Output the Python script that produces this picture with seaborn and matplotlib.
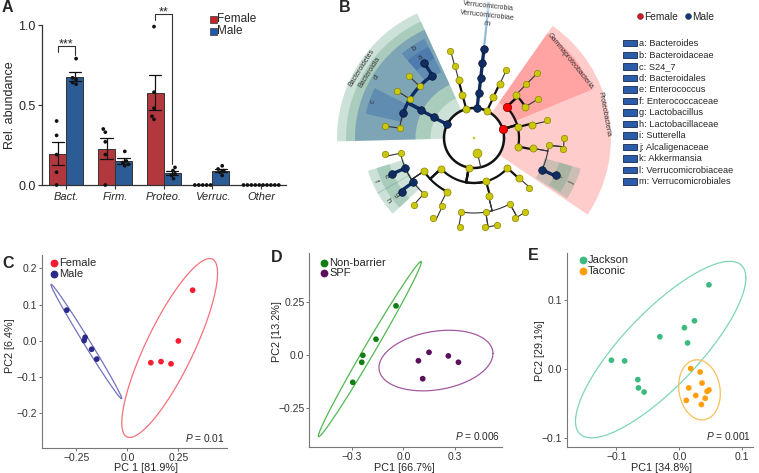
import warnings
warnings.filterwarnings('ignore')
import numpy as np
import pandas as pd
import matplotlib
matplotlib.use('Agg')
import matplotlib.pyplot as plt
import seaborn as sns
from matplotlib.patches import Wedge, Rectangle
from matplotlib.lines import Line2D

sns.set_theme(style='ticks')
plt.rcParams['font.family'] = ['Liberation Sans', 'DejaVu Sans']
plt.rcParams['mathtext.fontset'] = 'custom'
plt.rcParams['mathtext.it'] = 'Liberation Sans:italic'
plt.rcParams['mathtext.rm'] = 'Liberation Sans'

# ---------------- Panel A data ----------------
phyla = ['Bact.', 'Firm.', 'Proteo.', 'Verruc.', 'Other']
sexes = ['Female', 'Male']
bact_female = [0.40, 0.31, 0.19, 0.08, 0.00]
bact_male = [0.79, 0.67, 0.66, 0.64, 0.63]
firm_female = [0.35, 0.33, 0.27, 0.19, 0.00]
firm_male = [0.21, 0.15, 0.14, 0.13, 0.12]
proteo_female = [0.99, 0.58, 0.48, 0.43, 0.41]
proteo_male = [0.11, 0.09, 0.07, 0.06, 0.04]
verruc_female = [0.0, 0.0, 0.0, 0.0, 0.0]
verruc_male = [0.12, 0.10, 0.09, 0.08, 0.06]
other_female = [0.0, 0.0, 0.0, 0.0, 0.0]
other_male = [0.0, 0.0, 0.0, 0.0, 0.0]
sig_phyla = ['Bact.', 'Proteo.']
sig_stars = ['***', '**']

# ---------------- Panel B data (LEfSe cladogram) ----------------
clade_parent = [-1, 0, 0, 0, 0, 0, 0, 0,
                1, 8, 9, 10, 9, 12, 9, 14, 9, 9, 17,
                3, 19, 20, 21,
                2, 23, 24, 25,
                4, 27, 28,
                5, 30, 31, 32, 30, 34,
                5, 36, 37,
                5, 39, 40, 41, 41, 40, 44,
                6, 46, 47, 48, 47, 50, 47, 52, 47, 54, 46, 56, 57,
                6, 59, 60, 61, 60, 63, 63, 60, 66, 66,
                6, 69, 70]
clade_level = [-1, 1, 1, 1, 1, 1, 1, 0,
               2, 3, 4, 5, 4, 5, 4, 5, 4, 4, 5,
               2, 3, 4, 5,
               2, 3, 4, 5,
               2, 3, 4,
               2, 3, 4, 5, 3, 4,
               2, 3, 4,
               2, 3, 4, 5, 5, 4, 5,
               2, 3, 4, 5, 4, 5, 4, 5, 4, 5, 3, 4, 5,
               2, 3, 4, 5, 4, 5, 5, 4, 5, 5,
               2, 3, 4]
clade_angle = [0, 153, 105, 84, 64.5, 17, -100, -77,
               152.5, 152, 123.6, 123.5, 136.4, 136.6, 148.6, 148.4, 160.4, 172.4, 172.3,
               83.6, 83.6, 83.6, 83.7,
               105, 104.8, 105, 105.3,
               64.7, 64.5, 64.6,
               43.5, 45.8, 45.7, 46, 31.3, 31.4,
               14, 13, 14,
               -11, -10, -5.6, 0, -7, -25, -24,
               -137, -146.4, -168.3, -170, -156.3, -156.3, -144, -143.5, -132, -131.8, -116.8, -114.9, -116.8,
               -74.5, -76, -99.7, -99, -81, -83, -75.3, -61.4, -63, -55.3,
               -42, -41.6, -42.3]
male_clades = [1, 3, 8, 9, 10, 11, 16, 19, 20, 21, 22, 44, 45, 50, 51, 52, 53]
female_clades = [5, 30]
highlight_nodes = [1, 8, 9, 10, 11, 16, 5, 30, 44, 45, 50, 51, 52, 53, 3, 19, 20, 21, 22]
highlight_labels = ['Bacteroidetes', 'Bacteroidia', 'd', 'b', 'a', 'c',
                    'Proteobacteria', 'Gammaproteobacteria', 'j', 'i',
                    'f', 'e', 'h', 'g', 'Verrucomicrobia', 'Verrucomicrobiae', 'm', '', '']
highlight_pad = [9, 9, 9, 7, 7, 7, 9, 9, 8, 8, 6.5, 6.5, 6.5, 6.5, 0.4, 0.4, 0.4, 0.4, 0.4]
taxa_codes = list('abcdefghijklm')
taxa_names = ['Bacteroides', 'Bacteroidaceae', 'S24_7', 'Bacteroidales', 'Enterococcus',
              'Enterococcaceae', 'Lactobacillus', 'Lactobacillaceae', 'Sutterella',
              'Alcaligenaceae', 'Akkermansia', 'Verrucomicrobiaceae', 'Verrucomicrobiales']

# ---------------- Panels C-E data (PCoA) ----------------
c_female_pc1 = [0.32, 0.25, 0.115, 0.165, 0.214]
c_female_pc2 = [0.14, 0.0, -0.060, -0.057, -0.063]
c_male_pc1 = [-0.297, -0.207, -0.212, -0.175, -0.150]
c_male_pc2 = [0.085, 0.010, 0.001, -0.023, -0.050]
d_nonbarrier_pc1 = [-0.043, -0.160, -0.237, -0.243, -0.296]
d_nonbarrier_pc2 = [0.234, 0.076, 0.0, -0.033, -0.128]
d_spf_pc1 = [0.088, 0.150, 0.113, 0.263, 0.322]
d_spf_pc2 = [-0.026, 0.014, -0.111, -0.003, -0.033]
e_jackson_pc1 = [0.047, 0.024, 0.008, 0.013, -0.031, -0.108, -0.087, -0.066, -0.065, -0.056]
e_jackson_pc2 = [0.122, 0.070, 0.060, 0.038, 0.047, 0.013, 0.012, -0.015, -0.027, -0.033]
e_taconic_pc1 = [0.018, 0.033, 0.036, 0.015, 0.047, 0.044, 0.026, 0.041, 0.011, 0.035]
e_taconic_pc2 = [0.001, -0.004, -0.020, -0.027, -0.030, -0.032, -0.038, -0.042, -0.045, -0.051]

# ---------------- figure ----------------
W, H = 759, 473
fig = plt.figure(figsize=(W / 100, H / 100), dpi=100)


def axes_px(l, t, r, b):
    return fig.add_axes([l / W, 1 - b / H, (r - l) / W, (b - t) / H])


def fpt(x, y):
    return x / W, 1 - y / H


def ftext(x, y, s, **kw):
    fig.text(x / W, 1 - y / H, s, **kw)


# ================= Panel A =================
axA = axes_px(42, 5.8, 285.5, 185)
abund = {('Bact.', 'Female'): bact_female, ('Bact.', 'Male'): bact_male,
         ('Firm.', 'Female'): firm_female, ('Firm.', 'Male'): firm_male,
         ('Proteo.', 'Female'): proteo_female, ('Proteo.', 'Male'): proteo_male,
         ('Verruc.', 'Female'): verruc_female, ('Verruc.', 'Male'): verruc_male,
         ('Other', 'Female'): other_female, ('Other', 'Male'): other_male}
rows = [(p, s, v) for (p, s), vals in abund.items() for v in vals]
dfA = pd.DataFrame(rows, columns=['phylum', 'sex', 'value'])
bar_colors = {'Female': '#c8232c', 'Male': '#1a5aa8'}
sns.barplot(data=dfA, x='phylum', y='value', hue='sex', order=phyla, hue_order=sexes,
            palette=bar_colors, errorbar='se', capsize=0.5, width=0.7, gap=0,
            err_kws={'linewidth': 0.9, 'color': '#111111'}, edgecolor='#333333',
            linewidth=0.7, legend=False, ax=axA)
sns.swarmplot(data=dfA, x='phylum', y='value', hue='sex', order=phyla, hue_order=sexes,
              dodge=True, palette={'Female': '#111111', 'Male': '#111111'}, size=2.7,
              legend=False, ax=axA, zorder=5)
for coll in axA.collections:
    coll.set_clip_on(False)
axA.set_xlim(-0.5, 4.5)
axA.set_ylim(0, 1.12)
axA.set_yticks([0, 0.5, 1.0])
axA.set_yticklabels(['0.0', '0.5', '1.0'])
axA.set_xlabel('')
axA.set_ylabel('')
sns.despine(ax=axA)
axA.spines['left'].set_bounds(0, 1.0)
for sp in ['left', 'bottom']:
    axA.spines[sp].set_color('#333333')
    axA.spines[sp].set_linewidth(0.9)
axA.tick_params(axis='y', labelsize=9, length=3, width=0.8, color='#333333', pad=1.5)
axA.tick_params(axis='x', labelsize=8, length=3, width=0.8, color='#333333', pad=2)
for lbl in axA.get_xticklabels():
    lbl.set_style('italic')
ftext(10, 105, 'Rel. abundance', rotation=90, ha='center', va='center', fontsize=9)

for ph, stars in zip(sig_phyla, sig_stars):
    i = phyla.index(ph)
    fv = abund[(ph, 'Female')]
    mv = abund[(ph, 'Male')]
    ytop = max(fv + mv) + 0.08
    xl, xr = i - 0.175, i + 0.175
    axA.plot([xl, xl, xr, xr], [ytop - 0.04, ytop, ytop, max(mv) + 0.02],
             color='#333333', lw=0.8, clip_on=False)
    axA.text(i, ytop - 0.03, stars, ha='center', va='bottom', fontsize=9, clip_on=False)

for k, s in enumerate(sexes):
    x0, y0 = fpt(210, 16 + 12 * k)
    fig.add_artist(Rectangle((x0, y0 - 6.7 / H), 6.7 / W, 6.7 / H, transform=fig.transFigure,
                             facecolor=bar_colors[s], edgecolor='#333333', lw=0.5))
    ftext(217.5, 19.5 + 12 * k, s, ha='left', va='center', fontsize=8.5)

# ================= Panel B =================
axB = axes_px(318, 0, 618, 240)
axB.set_xlim(-156, 144)
axB.set_ylim(-102, 138)
axB.axis('off')

n_cl = len(clade_parent)
children = {i: [] for i in range(n_cl)}
for i, p in enumerate(clade_parent):
    if p >= 0:
        children[p].append(i)


def subtree(i):
    out = [i]
    for c in children[i]:
        out += subtree(c)
    return out


def rad(level):
    return 0.0 if level < 0 else 15.0 * (level + 1)


status = ['n'] * n_cl
for i in male_clades:
    status[i] = 'M'
for i in female_clades:
    status[i] = 'F'

outer_r = {1: 137, 2: 128, 3: 119, 4: 111, 5: 102}
label_r = {1: 132.5, 2: 123.5, 3: 115, 4: 107, 5: 96}
order = np.argsort([clade_level[h] for h in highlight_nodes], kind='stable')
for k in order:
    h = highlight_nodes[k]
    lev = clade_level[h]
    angs = [clade_angle[j] for j in subtree(h)]
    t1, t2 = min(angs) - highlight_pad[k], max(angs) + highlight_pad[k]
    rin = rad(lev) - 1.5 if lev > 1 else 30
    depth, p = 0, clade_parent[h]
    while p > 0:
        if p in highlight_nodes and status[p] == status[h]:
            depth += 1
        p = clade_parent[p]
    if status[h] == 'F':
        col, al = '#ff0000', 0.2
    elif depth < 2:
        col, al = '#5da080', 0.31
    else:
        col, al = '#2a5caa', 0.34
    if highlight_pad[k] < 1:
        col, al = '#7fb6d8', 0.45
    axB.add_patch(Wedge((0, 0), outer_r[lev], t1, t2, width=outer_r[lev] - rin,
                        facecolor=col, alpha=al, lw=0, zorder=1))
    txt = highlight_labels[k]
    if txt:
        mid = 0.5 * (t1 + t2)
        rot = mid - 90
        while rot > 90:
            rot -= 180
        while rot < -90:
            rot += 180
        lr = label_r[lev]
        axB.text(lr * np.cos(np.radians(mid)), lr * np.sin(np.radians(mid)), txt,
                 rotation=rot, ha='center', va='center', fontsize=5 if len(txt) > 1 else 5.5,
                 color='#333333', zorder=2, rotation_mode='anchor')


def arc(r, a0, a1, **kw):
    t = np.radians(np.linspace(a0, a1, max(2, int(abs(a1 - a0)) + 2)))
    axB.plot(r * np.cos(t), r * np.sin(t), solid_capstyle='round', **kw)


arc(30, 0, 360, color='#111111', lw=1.8, zorder=3)
for c in range(1, n_cl):
    p = clade_parent[c]
    tc = clade_angle[c]
    if p == 0:
        if clade_level[c] == 0:
            axB.plot([15 * np.cos(np.radians(tc)), 30 * np.cos(np.radians(tc))],
                     [15 * np.sin(np.radians(tc)), 30 * np.sin(np.radians(tc))],
                     color='#333333', lw=0.8, zorder=3)
        continue
    rp, rc = rad(clade_level[p]), rad(clade_level[c])
    tp = clade_angle[p]
    if status[c] == 'M' and status[p] == 'M':
        kw = dict(color='#0f2c63', lw=2.4, zorder=3.5)
    elif clade_level[c] <= 3:
        kw = dict(color='#111111', lw=1.6, zorder=3)
    else:
        kw = dict(color='#333333', lw=0.8, zorder=3)
    axB.plot([rp * np.cos(np.radians(tp)), rc * np.cos(np.radians(tp))],
             [rp * np.sin(np.radians(tp)), rc * np.sin(np.radians(tp))],
             solid_capstyle='round', **kw)
    arc(rc, tp, tc, **kw)

face = {'n': '#cbc70a', 'M': '#0f2c63', 'F': '#ff0000'}
edge = {'n': '#8a8600', 'M': '#06142e', 'F': '#7a0000'}
for i in range(n_cl):
    r = rad(clade_level[i])
    th = np.radians(clade_angle[i])
    lev = clade_level[i]
    if i == 0:
        size = 3
    elif lev == 0:
        size = 40
    elif status[i] == 'F':
        size = 36
    elif status[i] == 'M':
        size = 30
    else:
        size = 26 if lev <= 3 else 21
    axB.scatter([r * np.cos(th)], [r * np.sin(th)], s=size, c=face[status[i]],
                edgecolors=edge[status[i]] if i else 'none', linewidths=0.5, zorder=5)

# B legends
for x, lab, col in [(640, 'Female', '#e0141e'), (687.5, 'Male', '#0f3a80')]:
    fig.add_artist(Line2D([x / W], [1 - 16 / H], marker='o', markersize=4.2, color=col,
                          markeredgecolor='#333333', markeredgewidth=0.4,
                          transform=fig.transFigure))
    ftext(x + 4.5, 16.5, lab, ha='left', va='center', fontsize=7.3)
for k, (code, name) in enumerate(zip(taxa_codes, taxa_names)):
    yc = 43.3 + k * 11.53
    fig.add_artist(Rectangle((623.3 / W, 1 - (yc + 3.2) / H), 13.4 / W, 6.4 / H,
                             transform=fig.transFigure, facecolor='#2a5caa',
                             edgecolor='#16284d', lw=0.6))
    ftext(639, yc + 0.3, f'{code}: {name}', ha='left', va='center', fontsize=6.7)


# ================= Panels C-E =================
def trob(x, nu=5, maxit=25, tol=0.01):
    n, p = x.shape
    loc = x.mean(0)
    w = np.ones(n)
    X = x - loc
    for _ in range(maxit):
        w0 = w
        X = x - loc
        _, d, vt = np.linalg.svd(np.sqrt(w / w.sum())[:, None] * X, full_matrices=False)
        wX = X @ vt.T @ np.diag(1 / d)
        Q = (wX ** 2).sum(1)
        w = (nu + p) / (nu + Q)
        loc = (w[:, None] * x).sum(0) / w.sum()
        if np.all(np.abs(w - w0) < tol):
            break
    sw = np.sqrt(w)[:, None] * X
    return loc, sw.T @ sw / n


def stat_ellipse(pts, level=0.95, seg=101):
    loc, cov = trob(pts)
    dfd = len(pts) - 1
    fq = (dfd / 2) * ((1 - level) ** (-2 / dfd) - 1)
    radius = np.sqrt(2 * fq)
    R = np.linalg.cholesky(cov).T
    a = np.linspace(0, 2 * np.pi, seg)
    circ = np.column_stack([np.cos(a), np.sin(a)])
    return loc + radius * circ @ R


def pcoa(ax, groups, xs, ys, colors, ecolors, xlim, ylim, xt, xtl, yt, ytl, ptxt,
         leg_x, leg_y, txt_x):
    df = pd.DataFrame({'pc1': np.concatenate(xs), 'pc2': np.concatenate(ys),
                       'group': np.repeat(groups, [len(v) for v in xs])})
    sns.scatterplot(data=df, x='pc1', y='pc2', hue='group', hue_order=groups,
                    palette=dict(zip(groups, colors)), s=17, edgecolor='none', linewidth=0,
                    legend=False, ax=ax, zorder=3)
    for g, ec in zip(groups, ecolors):
        e = stat_ellipse(df.loc[df.group == g, ['pc1', 'pc2']].to_numpy())
        ax.plot(e[:, 0], e[:, 1], color=ec, lw=0.9, zorder=2)
    ax.set_xlim(*xlim)
    ax.set_ylim(*ylim)
    ax.set_xticks(xt)
    ax.set_xticklabels(xtl)
    ax.set_yticks(yt)
    ax.set_yticklabels(ytl)
    ax.set_xlabel('')
    ax.set_ylabel('')
    sns.despine(ax=ax)
    for sp in ['left', 'bottom']:
        ax.spines[sp].set_color('#777777')
        ax.spines[sp].set_linewidth(0.8)
    ax.tick_params(labelsize=7.5, length=2.5, width=0.7, color='#777777',
                   labelcolor='#333333', pad=1)
    ax.text(0.99, 0.055, ptxt, transform=ax.transAxes, ha='right', va='center', fontsize=7.3)
    for k, (g, c) in enumerate(zip(groups, colors)):
        ax.plot([leg_x], [leg_y[k]], 'o', color=c, markersize=4.6, transform=ax.transAxes,
                clip_on=False)
        ax.text(txt_x, leg_y[k], g, transform=ax.transAxes, ha='left', va='center',
                fontsize=8)


axC = axes_px(42.3, 255, 226.7, 448.3)
pcoa(axC, ['Female', 'Male'], [c_female_pc1, c_male_pc1], [c_female_pc2, c_male_pc2],
     ['#f61d33', '#2b2a8a'], ['#f7707a', '#7272c2'], (-0.417, 0.487), (-0.296, 0.237),
     [-0.25, 0, 0.25], ['\u22120.25', '0.0', '0.25'],
     [-0.2, -0.1, 0, 0.1, 0.2], ['\u22120.2', '\u22120.1', '0.0', '0.1', '0.2'],
     r'$\it{P}$ = 0.01', 0.065, [0.957, 0.900], 0.092)
axD = axes_px(309.3, 253.3, 501.7, 446.7)
pcoa(axD, ['Non-barrier', 'SPF'], [d_nonbarrier_pc1, d_spf_pc1],
     [d_nonbarrier_pc2, d_spf_pc2],
     ['#127d12', '#5c0f5a'], ['#52b852', '#a25aa0'], (-0.55, 0.575), (-0.433, 0.483),
     [-0.3, 0, 0.3], ['\u22120.3', '0.0', '0.3'],
     [-0.25, 0, 0.25], ['\u22120.25', '0.0', '0.25'],
     r'$\it{P}$ = 0.006', 0.076, [0.951, 0.897], 0.104)
axE = axes_px(566.7, 253, 753, 446.7)
pcoa(axE, ['Jackson', 'Taconic'], [e_jackson_pc1, e_taconic_pc1],
     [e_jackson_pc2, e_taconic_pc2],
     ['#3dba80', '#ff9d0a'], ['#7fd6b3', '#f7c05a'], (-0.179, 0.117), (-0.112, 0.168),
     [-0.1, 0, 0.1], ['\u22120.1', '0.0', '0.1'],
     [-0.1, 0, 0.1], ['\u22120.1', '0.0', '0.1'],
     r'$\it{P}$ = 0.001', 0.086, [0.964, 0.906], 0.112)

ftext(10, 345.5, 'PC2 [6.4%]', rotation=90, ha='center', va='center', fontsize=7.8)
ftext(146, 467.5, 'PC 1 [81.9%]', ha='center', va='center', fontsize=7.8)
ftext(277, 331.7, 'PC2 [13.2%]', rotation=90, ha='center', va='center', fontsize=7.8)
ftext(404.7, 467.5, 'PC1 [66.7%]', ha='center', va='center', fontsize=7.8)
ftext(540, 350.7, 'PC2 [29.1%]', rotation=90, ha='center', va='center', fontsize=7.8)
ftext(661.7, 467.5, 'PC1 [34.8%]', ha='center', va='center', fontsize=7.8)

for lab, x, y in [('A', 7.5, 7), ('B', 345, 7), ('C', 8.5, 263.5), ('D', 277, 257),
                  ('E', 533.5, 256)]:
    ftext(x, y, lab, ha='center', va='center', fontsize=11.5, fontweight='bold')

fig.savefig('out.png', dpi=100)
